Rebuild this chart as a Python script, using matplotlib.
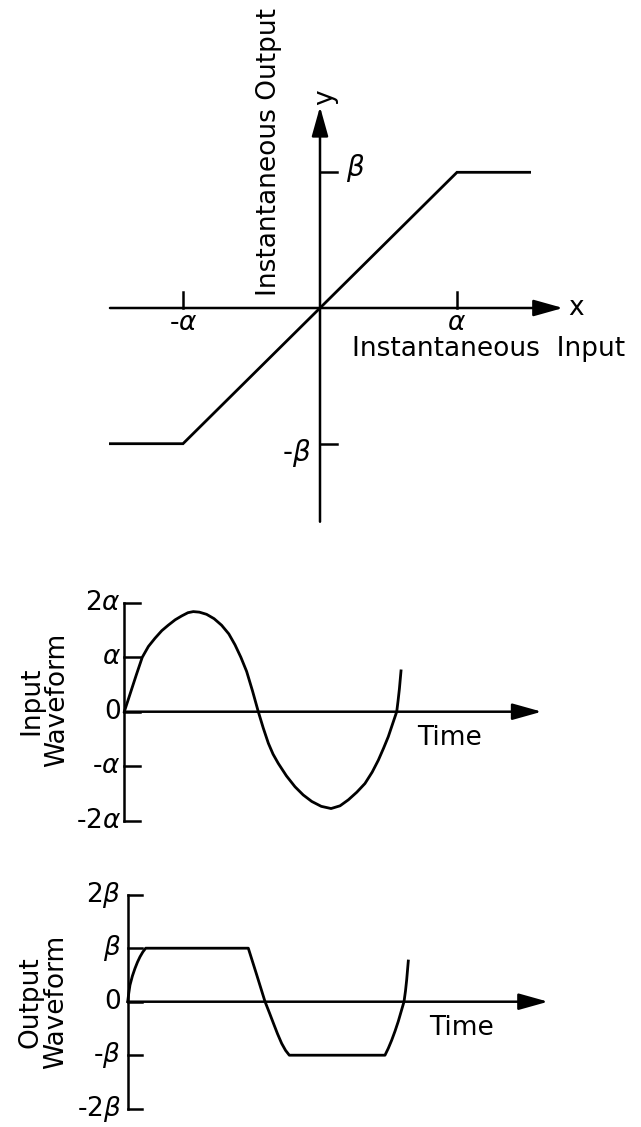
import matplotlib
matplotlib.use("Agg")
import matplotlib.pyplot as plt

plt.rcParams['font.family'] = ['DejaVu Sans']
plt.rcParams['mathtext.fontset'] = 'dejavusans'

# ---------------- data ----------------
# transfer characteristic (x in units of alpha, y in units of beta)
transfer_x = [-1.53, -1.0, 0.0, 1.0, 1.53]
transfer_y = [-1.0, -1.0, 0.0, 1.0, 1.0]
transfer_xticks = [-1.0, 1.0]
transfer_xlabels = ['-' + r'$\alpha$', r'$\alpha$']
transfer_yticks = [1.0, -1.0]
transfer_ylabels = [r'$\beta$', '-' + r'$\beta$']

# input waveform (time in half-periods, value in units of alpha)
input_t = [0.00, 0.045, 0.09, 0.134, 0.18, 0.229, 0.28, 0.328, 0.38, 0.428,
           0.475, 0.515, 0.56, 0.614, 0.67, 0.726, 0.78, 0.826, 0.87, 0.913,
           0.957, 1.00, 1.037, 1.075, 1.11, 1.149, 1.21, 1.274, 1.335, 1.399,
           1.47, 1.543, 1.61, 1.672, 1.735, 1.796, 1.85, 1.896, 1.935, 1.970,
           2.00, 2.033, 2.043, 2.053, 2.065]
input_v = [0.00, 0.34, 0.68, 1.00, 1.20, 1.35, 1.49, 1.59, 1.69, 1.76,
           1.82, 1.84, 1.83, 1.79, 1.71, 1.59, 1.43, 1.23, 1.00, 0.74,
           0.38, 0.00, -0.30, -0.58, -0.78, -0.95, -1.18, -1.38, -1.53, -1.65,
           -1.74, -1.78, -1.73, -1.62, -1.48, -1.32, -1.11, -0.89, -0.67, -0.46,
           -0.24, 0.00, 0.20, 0.42, 0.75]
input_ticks = [2, 1, 0, -1, -2]
input_labels = ['2' + r'$\alpha$', r'$\alpha$', '0', '-' + r'$\alpha$', '-2' + r'$\alpha$']

# output waveform (time in half-periods, value in units of beta)
output_t = [0.0, 0.008, 0.017, 0.035, 0.054, 0.073, 0.092, 0.113, 0.134, 0.90,
            0.963, 1.025, 1.058, 1.087, 1.118, 1.149, 1.178, 1.206, 1.920, 1.945,
            1.970, 1.995, 2.019, 2.041, 2.062, 2.073, 2.082, 2.094]
output_v = [0.0, 0.16, 0.31, 0.48, 0.62, 0.74, 0.84, 0.93, 1.0, 1.0,
            0.5, 0.0, -0.21, -0.40, -0.60, -0.78, -0.91, -1.0, -1.0, -0.87,
            -0.72, -0.55, -0.37, -0.18, 0.0, 0.20, 0.41, 0.76]
output_ticks = [2, 1, 0, -1, -2]
output_labels = ['2' + r'$\beta$', r'$\beta$', '0', '-' + r'$\beta$', '-2' + r'$\beta$']

# ---------------- figure ----------------
W, H = 641, 1127
fig = plt.figure(figsize=(W / 100, H / 100), dpi=100)
fig.patch.set_facecolor('white')


def px_rect(x0, y0, x1, y1):
    return [x0 / W, 1 - y1 / H, (x1 - x0) / W, (y1 - y0) / H]


LW = 1.8
CLW = 2.0
FS = 19
ARROW = dict(arrowstyle='-|>,head_length=1.0,head_width=0.28', mutation_scale=18,
             lw=LW, color='black', shrinkA=0, shrinkB=0)


def arrow(ax, start, end):
    ax.annotate('', xy=end, xytext=start, arrowprops=ARROW, annotation_clip=False)


# ---------- top panel: transfer characteristic ----------
ux, uy = 137.0, 135.7
ox, oy = 320.0, 308.0
ax1 = fig.add_axes(px_rect(0, 0, W, 560))
ax1.set_xlim(-ox / ux, (W - ox) / ux)
ax1.set_ylim((oy - 560) / uy, oy / uy)
ax1.axis('off')

arrow(ax1, (-1.533, 0), (1.774, 0))
arrow(ax1, (0, -1.575), (0, 1.483))
ax1.plot(transfer_x, transfer_y, color='black', lw=CLW, solid_joinstyle='miter')
tick_len_y = 16 / uy
tick_len_x = 17 / ux
for xt, lab in zip(transfer_xticks, transfer_xlabels):
    ax1.plot([xt, xt], [0, tick_len_y], color='black', lw=LW)
    ax1.text(xt, -0.11, lab, ha='center', va='center', fontsize=FS)
for yt, lab in zip(transfer_yticks, transfer_ylabels):
    ax1.plot([0, tick_len_x], [yt, yt], color='black', lw=LW)
ax1.text(0.26, 1.03, transfer_ylabels[0], ha='center', va='center', fontsize=FS + 1)
ax1.text(-0.17, -1.07, transfer_ylabels[1], ha='center', va='center', fontsize=FS + 1)
ax1.text(1.87, 0.0, 'x', ha='center', va='center', fontsize=FS)
ax1.text(0.04, 1.55, 'y', ha='center', va='center', fontsize=FS, rotation=90)
ax1.text(-0.37, 1.15, 'Instantaneous Output', ha='center', va='center',
         fontsize=FS, rotation=90)
ax1.text(1.23, -0.30, 'Instantaneous  Input', ha='center', va='center', fontsize=FS)

# ---------- middle panel: input waveform ----------
ut = 134.0
ua = 54.4
ox2, oy2 = 124.3, 711.7
top2, bot2 = 570, 840
ax2 = fig.add_axes(px_rect(0, top2, W, bot2))
ax2.set_xlim(-ox2 / ut, (W - ox2) / ut)
ax2.set_ylim((oy2 - bot2) / ua, (oy2 - top2) / ua)
ax2.axis('off')

ax2.plot([0, 0], [-2, 2], color='black', lw=LW)
for yt, lab in zip(input_ticks, input_labels):
    ax2.plot([0, 16 / ut], [yt, yt], color='black', lw=LW)
    ax2.text(-0.025, yt, lab, ha='right', va='center', fontsize=FS)
arrow(ax2, (0, 0), (3.115, 0))
ax2.plot(input_t, input_v, color='black', lw=CLW)
ax2.text(2.427, -0.48, 'Time', ha='center', va='center', fontsize=FS)
ax2.text(-0.6, 0.21, 'Input\nWaveform', ha='center', va='center', fontsize=FS,
         rotation=90, multialignment='center', linespacing=1.0)

# ---------- bottom panel: output waveform ----------
ub = 53.5
ox3, oy3 = 127.7, 1001.7
top3, bot3 = 860, H
ax3 = fig.add_axes(px_rect(0, top3, W, bot3))
ax3.set_xlim(-ox3 / ut, (W - ox3) / ut)
ax3.set_ylim((oy3 - bot3) / ub, (oy3 - top3) / ub)
ax3.axis('off')

ax3.plot([0, 0], [-2, 2], color='black', lw=LW)
for yt, lab in zip(output_ticks, output_labels):
    ax3.plot([0, 14 / ut], [yt, yt], color='black', lw=LW)
    ax3.text(-0.05, yt, lab, ha='right', va='center', fontsize=FS)
arrow(ax3, (0, 0), (3.137, 0))
ax3.plot(output_t, output_v, color='black', lw=CLW)
ax3.text(2.49, -0.49, 'Time', ha='center', va='center', fontsize=FS)
ax3.text(-0.63, 0.0, 'Output\nWaveform', ha='center', va='center', fontsize=FS,
         rotation=90, multialignment='center', linespacing=1.0)

fig.savefig('out.png', dpi=100, facecolor='white')
